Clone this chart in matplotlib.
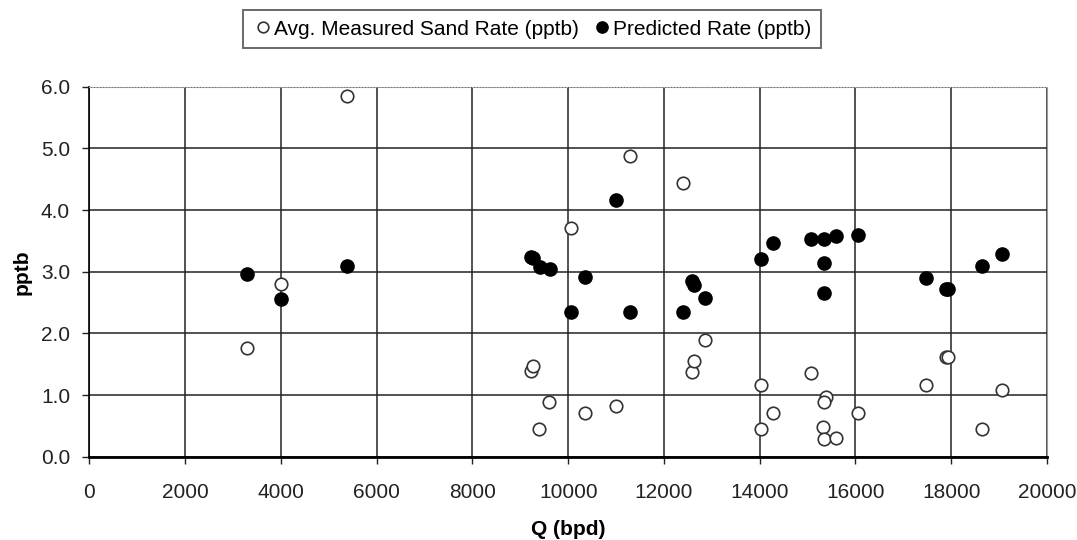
import matplotlib
matplotlib.use('Agg')
import matplotlib.pyplot as plt

# measured sand rate (open circles)
q_meas = [3283, 4006, 5372, 9221, 9269, 9395, 9603, 10060, 10355, 10996,
          11289, 12402, 12584, 12625, 12862, 14025, 14025, 14269, 15069,
          15376, 15347, 15326, 15347, 15591, 16044, 17471, 17888, 17937,
          18634, 19052]
rate_meas = [1.76, 2.80, 5.85, 1.39, 1.47, 0.45, 0.88, 3.71, 0.71, 0.82,
             4.88, 4.44, 1.38, 1.55, 1.89, 1.16, 0.45, 0.71, 1.36,
             0.96, 0.89, 0.48, 0.28, 0.30, 0.71, 1.16, 1.61, 1.61,
             0.45, 1.08]

# predicted rate (filled circles)
q_pred = [3283, 4006, 5372, 9221, 9269, 9409, 9618, 10060, 10355, 10996,
          11289, 12402, 12590, 12625, 12862, 14025, 14269, 15069, 15347,
          15591, 16044, 15347, 15347, 17471, 17888, 17937, 18634, 19052]
rate_pred = [2.96, 2.55, 3.09, 3.24, 3.22, 3.08, 3.04, 2.35, 2.92, 4.17,
             2.35, 2.35, 2.85, 2.78, 2.58, 3.21, 3.46, 3.53, 3.53,
             3.58, 3.60, 3.14, 2.66, 2.89, 2.72, 2.72, 3.09, 3.29]

xticks = list(range(0, 20001, 2000))
yticks = [0.0, 1.0, 2.0, 3.0, 4.0, 5.0, 6.0]

plt.rcParams['font.family'] = ['Liberation Sans', 'DejaVu Sans']

fig = plt.figure(figsize=(10.77, 5.40), dpi=100)
ax = fig.add_axes([0.0831, 0.1543, 0.889, 0.6851])

ax.plot(q_meas, rate_meas, linestyle='none', marker='o', markersize=9,
        markerfacecolor='white', markeredgecolor='#333333', markeredgewidth=1.2,
        label='Avg. Measured Sand Rate (pptb)', zorder=3)
ax.plot(q_pred, rate_pred, linestyle='none', marker='o', markersize=9.5,
        markerfacecolor='black', markeredgecolor='black',
        label='Predicted Rate (pptb)', zorder=4)

ax.set_xlim(0, 20000)
ax.set_ylim(0, 6)
ax.set_xticks(xticks)
ax.set_xticklabels([str(v) for v in xticks])
ax.set_yticks(yticks)
ax.set_yticklabels(['%.1f' % v for v in yticks])
ax.grid(True, color='#222222', linewidth=1.1)
ax.set_axisbelow(True)
ax.tick_params(labelsize=15, length=5, direction='out', width=1,
               colors='#222222')
ax.tick_params(axis='x', pad=14)
ax.tick_params(axis='y', pad=9)

ax.spines['top'].set_color('#aaaaaa')
ax.spines['top'].set_linestyle(':')
ax.spines['right'].set_color('#999999')
ax.spines['left'].set_linewidth(1.2)
ax.spines['bottom'].set_linewidth(2)

ax.set_xlabel('Q (bpd)', fontsize=15, fontweight='bold', labelpad=13)
ax.set_ylabel('pptb', fontsize=15, fontweight='bold', labelpad=7)

leg = fig.legend(loc='center', bbox_to_anchor=(0.494, 0.946), ncol=2,
                 frameon=True, fancybox=False, fontsize=15, handletextpad=0.05,
                 columnspacing=0.6, handlelength=1.0, borderpad=0.45,
                 markerscale=0.85)
leg.get_frame().set_edgecolor('#444444')
leg.get_frame().set_linewidth(1.4)

fig.savefig('out.png', dpi=100)
